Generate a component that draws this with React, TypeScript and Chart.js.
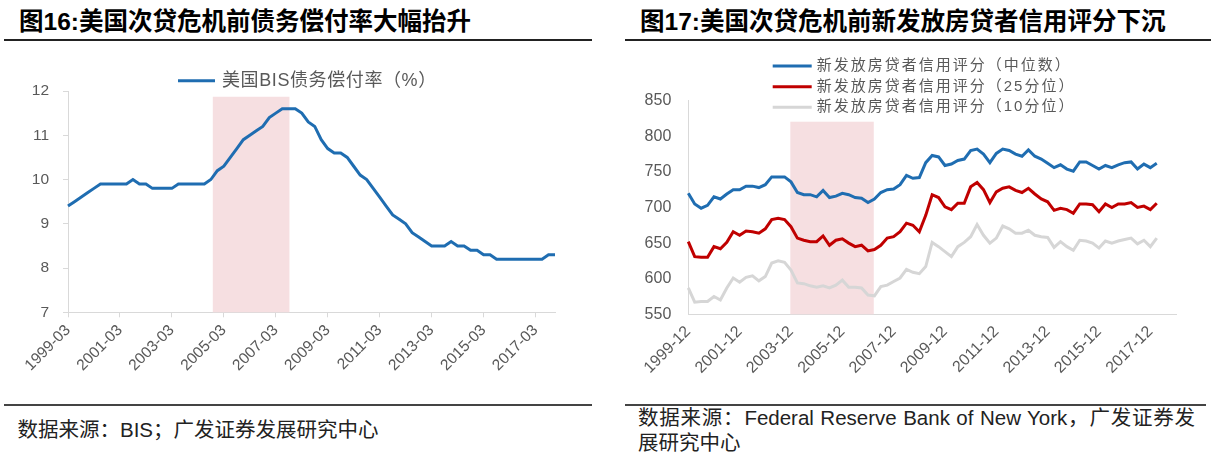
import React, { useEffect, useRef } from 'react';
import { Chart, registerables } from 'chart.js';

Chart.register(...registerables);

const FONT = '"Liberation Sans", "Noto Sans CJK SC", sans-serif';
const TEXT_GRAY = '#595959';
const AXIS_GRAY = '#D9D9D9';

function makeQuarters(startYear: number, startMonth: number, count: number): string[] {
  const out: string[] = [];
  let y = startYear;
  let m = startMonth;
  for (let i = 0; i < count; i++) {
    out.push(`${y}-${m < 10 ? '0' + m : m}`);
    m += 3;
    if (m > 12) { m -= 12; y += 1; }
  }
  return out;
}

// ---- Figure 16: US BIS debt service ratio (%) ----
const dsrQuarters = makeQuarters(1999, 3, 76);
const dsrLabel = '美国BIS债务偿付率（%）';
const dsrValues = [
  9.4, 9.5, 9.6, 9.7, 9.8, 9.9, 9.9, 9.9, 9.9, 9.9,
  10.0, 9.9, 9.9, 9.8, 9.8, 9.8, 9.8, 9.9, 9.9, 9.9,
  9.9, 9.9, 10.0, 10.2, 10.3, 10.5, 10.7, 10.9, 11.0, 11.1,
  11.2, 11.4, 11.5, 11.6, 11.6, 11.6, 11.5, 11.3, 11.2, 10.9,
  10.7, 10.6, 10.6, 10.5, 10.3, 10.1, 10.0, 9.8, 9.6, 9.4,
  9.2, 9.1, 9.0, 8.8, 8.7, 8.6, 8.5, 8.5, 8.5, 8.6,
  8.5, 8.5, 8.4, 8.4, 8.3, 8.3, 8.2, 8.2, 8.2, 8.2,
  8.2, 8.2, 8.2, 8.2, 8.3, 8.3,
];
const dsrAxis = { min: 7, max: 12, step: 1 };
const dsrShadeRange = [22.3, 34.1]; // category positions
const dsrShadeTop = 11.87;

// ---- Figure 17: credit score of new mortgage borrowers ----
const ficoQuarters = makeQuarters(1999, 12, 77);
const ficoLabels = [
  '新发放房贷者信用评分（中位数）',
  '新发放房贷者信用评分（25分位）',
  '新发放房贷者信用评分（10分位）',
];
const ficoMedian = [
  720, 705, 699, 703, 715, 712, 719, 725, 725, 730,
  730, 728, 732, 743, 743, 743, 736, 721, 718, 718,
  715, 724, 714, 716, 720, 718, 714, 713, 707, 712,
  721, 725, 726, 732, 745, 741, 742, 763, 773, 771,
  759, 761, 766, 768, 780, 782, 775, 763, 776, 782,
  780, 775, 772, 781, 772, 768, 762, 756, 760, 754,
  751, 764, 764, 759, 754, 759, 756, 760, 763, 764,
  754, 761, 756, 762,
];
const fico25 = [
  652, 631, 630, 630, 645, 642, 651, 666, 661, 667,
  666, 664, 670, 683, 685, 683, 673, 657, 654, 652,
  652, 660, 647, 654, 656, 650, 645, 647, 639, 641,
  647, 657, 659, 666, 678, 675, 666, 689, 718, 714,
  701, 697, 706, 706, 729, 735, 725, 707, 722, 727,
  729, 724, 721, 727, 719, 712, 708, 696, 699, 697,
  692, 705, 705, 704, 694, 705, 700, 705, 705, 707,
  700, 702, 697, 706,
];
const fico10 = [
  587, 567, 568, 568, 575, 570, 587, 601, 595, 602,
  604, 597, 603, 622, 625, 623, 612, 594, 593, 590,
  588, 590, 587, 591, 598, 588, 588, 587, 577, 576,
  589, 591, 596, 601, 613, 609, 607, 617, 651, 645,
  638, 631, 645, 651, 659, 676, 661, 650, 657, 674,
  670, 664, 664, 668, 661, 659, 658, 644, 652, 645,
  640, 654, 653, 650, 643, 653, 650, 653, 655, 657,
  649, 654, 645, 657,
];
const ficoAxis = { min: 550, max: 850, step: 50 };
const ficoShadeRange = [15.9, 28.9];
const ficoShadeTop = 820.5;

const BLUE = '#1F6DB1';
const RED = '#C00000';
const LIGHT = '#D6D6D6';
const SHADE = '#F6DFE1';

const shadePlugin = {
  id: 'shadeBand',
  beforeDatasetsDraw(chart: any, _args: any, opts: any) {
    const { ctx, chartArea, scales } = chart;
    const x0 = scales.x.getPixelForValue(opts.from);
    const x1 = scales.x.getPixelForValue(opts.to);
    const yt = scales.y.getPixelForValue(opts.top);
    ctx.save();
    ctx.fillStyle = opts.color;
    ctx.fillRect(x0, yt, x1 - x0, chartArea.bottom - yt);
    ctx.restore();
  },
};

const legendPlugin = {
  id: 'lineLegend',
  afterDraw(chart: any, _args: any, opts: any) {
    const { ctx } = chart;
    ctx.save();
    chart.data.datasets.forEach((ds: any, i: number) => {
      const y = opts.y0 + i * (opts.rowGap || 0);
      ctx.strokeStyle = ds.borderColor;
      ctx.lineWidth = 3;
      ctx.lineCap = 'butt';
      ctx.beginPath();
      ctx.moveTo(opts.x0, y);
      ctx.lineTo(opts.x0 + opts.lineLen, y);
      ctx.stroke();
      ctx.font = `${opts.size}px ${FONT}`;
      ctx.fillStyle = TEXT_GRAY;
      ctx.textBaseline = 'middle';
      ctx.textAlign = 'left';
      try { (ctx as any).letterSpacing = opts.spacing; } catch (e) { /* ignore */ }
      ctx.fillText(ds.label, opts.x0 + opts.lineLen + opts.gap, y);
    });
    ctx.restore();
  },
};

function dsrConfig(): any {
  return {
    type: 'line',
    data: {
      labels: dsrQuarters,
      datasets: [
        { label: dsrLabel, data: dsrValues, borderColor: BLUE, borderWidth: 3, pointRadius: 0, tension: 0, fill: false },
      ],
    },
    options: {
      responsive: false,
      animation: false,
      layout: { padding: { top: 41, right: 55, left: 0, bottom: 0 } },
      plugins: {
        legend: { display: false },
        tooltip: { enabled: false },
        shadeBand: { from: dsrShadeRange[0], to: dsrShadeRange[1], top: dsrShadeTop, color: SHADE },
        lineLegend: { x0: 178, y0: 30.7, lineLen: 37, gap: 7, size: 18, spacing: '0.6px' },
      },
      scales: {
        x: {
          type: 'category',
          ticks: {
            autoSkip: false, maxRotation: 45, minRotation: 45, padding: 4,
            color: TEXT_GRAY, font: { family: FONT, size: 15.5 },
            callback: (_v: any, i: number) => (i % 8 === 0 ? dsrQuarters[i] : ''),
          },
          grid: {
            display: true, drawOnChartArea: false, drawTicks: true, tickLength: 5,
            tickColor: (c: any) => (c.index % 8 === 0 ? AXIS_GRAY : 'rgba(0,0,0,0)'),
          },
          border: { display: true, color: AXIS_GRAY, width: 1 },
          afterFit: (s: any) => { s.height = 77.7; },
        },
        y: {
          min: dsrAxis.min, max: dsrAxis.max,
          ticks: { stepSize: dsrAxis.step, padding: 14, color: TEXT_GRAY, font: { family: FONT, size: 15.5 } },
          grid: { display: true, drawOnChartArea: false, drawTicks: true, tickLength: 5, tickColor: AXIS_GRAY },
          border: { display: true, color: AXIS_GRAY, width: 1 },
          afterFit: (s: any) => { s.width = 68; },
        },
      },
    },
    plugins: [shadePlugin, legendPlugin],
  };
}

function ficoConfig(): any {
  return {
    type: 'line',
    data: {
      labels: ficoQuarters,
      datasets: [
        { label: ficoLabels[0], data: ficoMedian, borderColor: BLUE, borderWidth: 3, pointRadius: 0, tension: 0, fill: false },
        { label: ficoLabels[1], data: fico25, borderColor: RED, borderWidth: 3, pointRadius: 0, tension: 0, fill: false },
        { label: ficoLabels[2], data: fico10, borderColor: LIGHT, borderWidth: 3, pointRadius: 0, tension: 0, fill: false },
      ],
    },
    options: {
      responsive: false,
      animation: false,
      layout: { padding: { top: 50.7, right: 44, left: 0, bottom: 0 } },
      plugins: {
        legend: { display: false },
        tooltip: { enabled: false },
        shadeBand: { from: ficoShadeRange[0], to: ficoShadeRange[1], top: ficoShadeTop, color: SHADE },
        lineLegend: { x0: 162.7, y0: 16, rowGap: 20.65, lineLen: 39, gap: 5, size: 15, spacing: '2px' },
      },
      scales: {
        x: {
          type: 'category',
          ticks: {
            autoSkip: false, maxRotation: 45, minRotation: 45, padding: 8,
            color: TEXT_GRAY, font: { family: FONT, size: 16 },
            callback: (_v: any, i: number) => (i % 8 === 0 ? ficoQuarters[i] : ''),
          },
          grid: { display: false, drawTicks: false },
          border: { display: true, color: AXIS_GRAY, width: 1 },
          afterFit: (s: any) => { s.height = 75.7; },
        },
        y: {
          min: ficoAxis.min, max: ficoAxis.max,
          ticks: { stepSize: ficoAxis.step, padding: 17, color: TEXT_GRAY, font: { family: FONT, size: 16 } },
          grid: { display: false, drawTicks: false },
          border: { display: true, color: AXIS_GRAY, width: 1 },
          afterFit: (s: any) => { s.width = 78.3; },
        },
      },
    },
    plugins: [shadePlugin, legendPlugin],
  };
}

function ChartCanvas({ makeConfig, left, top }: { makeConfig: () => any; left: number; top: number }) {
  const ref = useRef<HTMLCanvasElement | null>(null);
  useEffect(() => {
    if (!ref.current) return;
    const chart = new Chart(ref.current, makeConfig());
    return () => chart.destroy();
  }, []);
  return (
    <canvas
      ref={ref}
      width={610}
      height={340}
      style={{ position: 'absolute', left, top, width: 610, height: 340 }}
    />
  );
}

const titleStyle: React.CSSProperties = {
  position: 'absolute', top: 10, font: `bold 24.5px ${FONT}`, lineHeight: '24px', color: '#000', whiteSpace: 'nowrap',
};
const sourceStyle: React.CSSProperties = {
  position: 'absolute', font: `20.5px ${FONT}`, lineHeight: '24.5px', color: '#222',
};

export default function App() {
  return (
    <div style={{ position: 'absolute', left: 0, top: 0, width: 1220, height: 464, background: '#fff', overflow: 'hidden' }}>
      <div style={{ ...titleStyle, left: 19 }}>图16:美国次贷危机前债务偿付率大幅抬升</div>
      <div style={{ ...titleStyle, left: 640 }}>图17:美国次贷危机前新发放房贷者信用评分下沉</div>
      <div style={{ position: 'absolute', left: 4, top: 39, width: 588, height: 2, background: '#222' }} />
      <div style={{ position: 'absolute', left: 625, top: 39, width: 586, height: 2, background: '#222' }} />

      <ChartCanvas makeConfig={dsrConfig} left={0} top={50} />
      <ChartCanvas makeConfig={ficoConfig} left={610} top={50} />

      <div style={{ position: 'absolute', left: 4, top: 404, width: 588, height: 1.5, background: '#444' }} />
      <div style={{ position: 'absolute', left: 625, top: 404, width: 581, height: 1.5, background: '#444' }} />
      <div style={{ ...sourceStyle, left: 17.5, top: 418, whiteSpace: 'nowrap' }}>数据来源：BIS；广发证券发展研究中心</div>
      <div style={{ ...sourceStyle, left: 638, top: 406, width: 557 }}>
        <div style={{ textAlign: 'justify', textAlignLast: 'justify' }}>数据来源：Federal Reserve Bank of New York，广发证券发</div>
        <div>展研究中心</div>
      </div>
    </div>
  );
}
